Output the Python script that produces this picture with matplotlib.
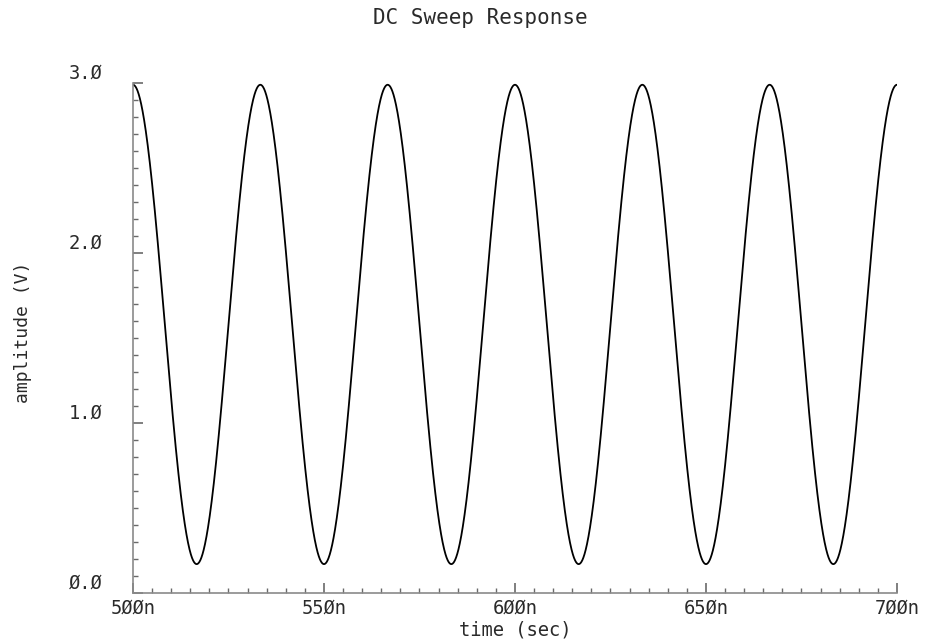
import numpy as np
import matplotlib
matplotlib.use("Agg")
import matplotlib.pyplot as plt
from matplotlib.ticker import FixedLocator, MultipleLocator

# Signal description (times in ns, levels in V)
t_start, t_stop = 500.0, 700.0
period_ns = 100.0 / 3.0          # 30 MHz
v_high = 2.99
v_low = 0.17

x_ticks = [500, 550, 600, 650, 700]
x_tick_labels = ["5ØØn", "55Øn", "6ØØn", "65Øn", "7ØØn"]
y_ticks = [0.0, 1.0, 2.0, 3.0]
y_tick_labels = ["Ø.Ø", "1.Ø", "2.Ø", "3.Ø"]

title = "DC Sweep Response"
x_label = "time (sec)"
y_label = "amplitude (V)"

plt.rcParams["font.family"] = ["DejaVu Sans Mono", "DejaVu Sans"]

t = np.linspace(t_start, t_stop, 4001)
offset = (v_high + v_low) / 2.0
amp = (v_high - v_low) / 2.0
v = offset + amp * np.cos(2 * np.pi * (t - t_start) / period_ns)

fig = plt.figure(figsize=(9.3, 6.44), dpi=100)
ax = fig.add_axes([0.143, 0.0792, 0.8215, 0.7918])

ax.plot(t, v, color="black", lw=1.3)

ax.set_xlim(t_start, t_stop)
ax.set_ylim(0.0, 3.0)

for side in ("top", "right"):
    ax.spines[side].set_visible(False)
for side in ("left", "bottom"):
    ax.spines[side].set_color("#8a8a8a")
    ax.spines[side].set_linewidth(1.2)

ax.xaxis.set_major_locator(FixedLocator(x_ticks))
ax.set_xticklabels(x_tick_labels)
ax.xaxis.set_minor_locator(MultipleLocator(5))
ax.yaxis.set_major_locator(FixedLocator(y_ticks))
ax.set_yticklabels(y_tick_labels)
ax.yaxis.set_minor_locator(MultipleLocator(0.1))

text_color = "#2a2a2a"
ax.tick_params(axis="both", which="both", direction="in", color="#6a6a6a",
               labelcolor=text_color)
ax.tick_params(axis="both", which="major", length=7, width=1.2, labelsize=13.5)
ax.tick_params(axis="both", which="minor", length=3.5, width=1.0)
ax.tick_params(axis="x", which="major", pad=4)
ax.tick_params(axis="y", which="major", pad=22)
for lbl in ax.get_yticklabels():
    lbl.set_verticalalignment("bottom")

fig.text(0.517, 0.972, title, ha="center", va="center", fontsize=15,
         color=text_color)
fig.text(0.554, 0.022, x_label, ha="center", va="center", fontsize=13.5,
         color=text_color)
fig.text(0.025, 0.484, y_label, ha="center", va="center", rotation=90,
         fontsize=13, color=text_color)

fig.savefig("out.png", dpi=100, facecolor="white")
